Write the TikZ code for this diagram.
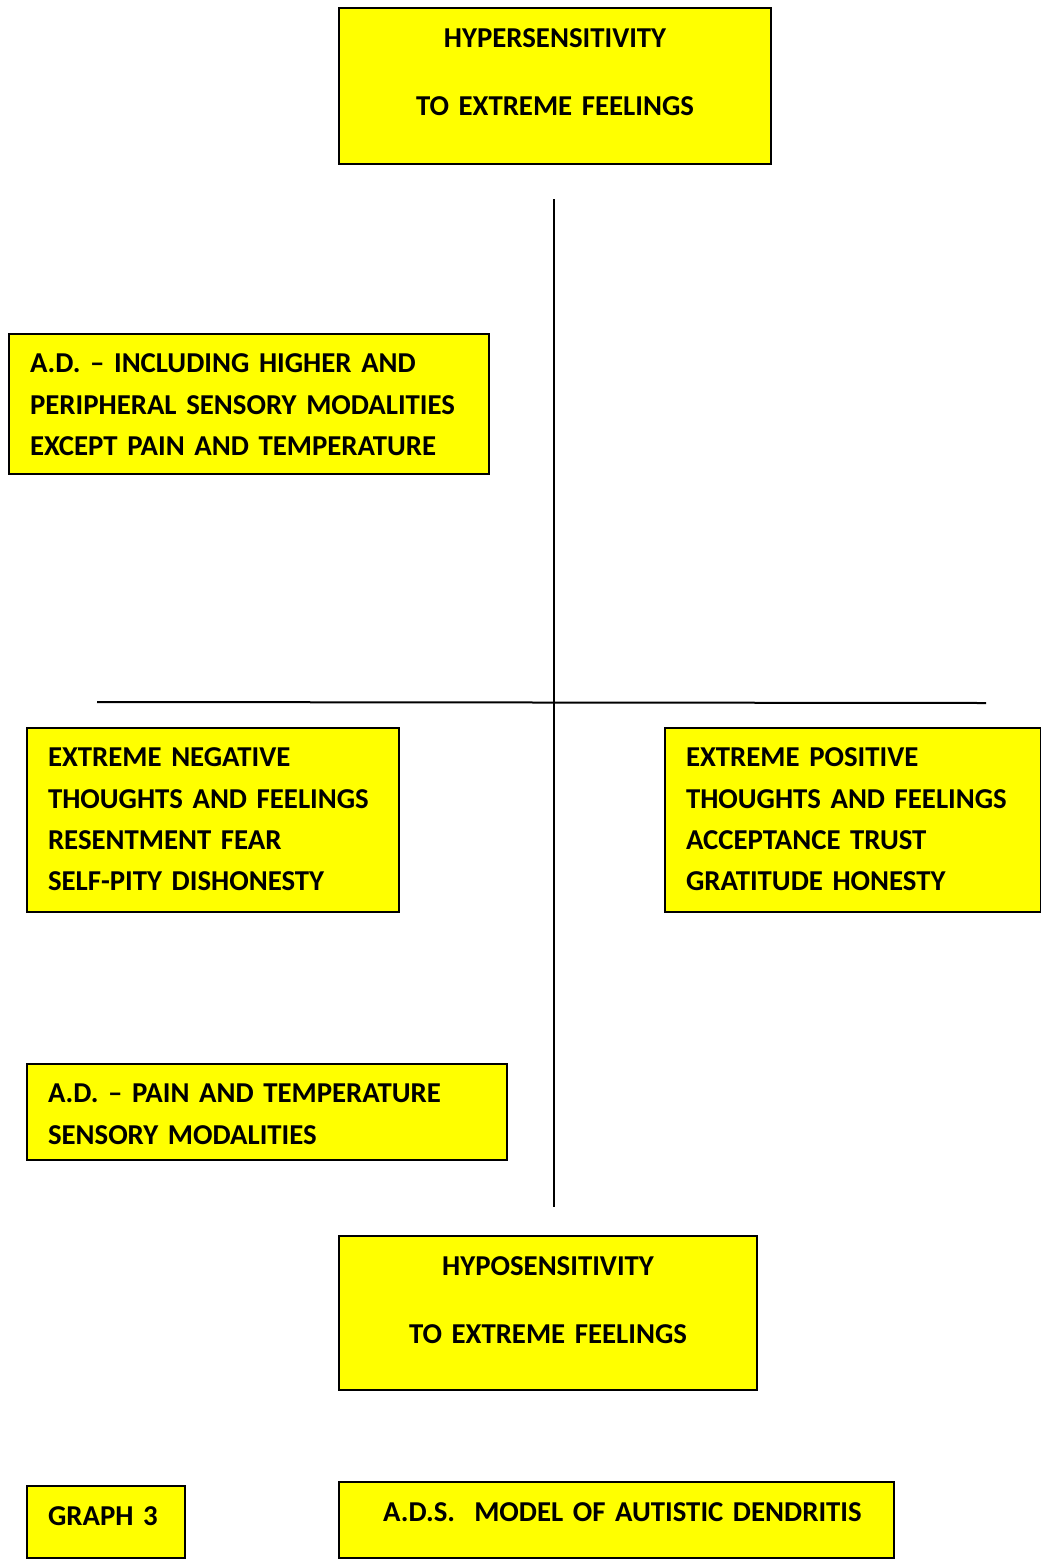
\documentclass[tikz,border=0pt]{standalone}
\usepackage{fontspec}
\setmainfont{Carlito}
\usepackage{xcolor}
\usepackage{tikz}
\definecolor{boxyellow}{RGB}{255,255,0}
\frenchspacing

\begin{document}
\begin{tikzpicture}[x=0.75pt, y=-0.75pt,
		box/.style={draw, rectangle, fill=boxyellow, line width=1.5pt, anchor=north west,
			inner ysep=0pt, inner xsep=15.75pt, font=\bfseries\fontsize{21.6}{31.1}\selectfont},
		leftbox/.style={box, align=left},
		midbox/.style={box, align=center, inner xsep=0pt},
		axis/.style={line width=1.5pt}]
		\useasboundingbox (0,0) rectangle (1041,1564);
		
		% Nodes
		\node[midbox, text width=324pt, text height=29.6pt, text depth=87.4pt] (hyper) at (338,7)
			{HYPERSENSITIVITY\\[19.9pt]TO EXTREME FEELINGS};
		\node[leftbox, text width=328.5pt, text height=28.9pt, text depth=76.1pt] (adhigh) at (8,333)
			{A.D. -- INCLUDING HIGHER AND\\PERIPHERAL SENSORY MODALITIES\\EXCEPT PAIN AND TEMPERATURE};
		\node[leftbox, text width=247.5pt, text height=28.9pt, text depth=109.1pt] (negative) at (26,727)
			{EXTREME NEGATIVE\\THOUGHTS AND FEELINGS\\RESENTMENT FEAR\\SELF-PITY DISHONESTY};
		\node[leftbox, text width=250.5pt, text height=28.9pt, text depth=109.1pt] (positive) at (664,727)
			{EXTREME POSITIVE\\THOUGHTS AND FEELINGS\\ACCEPTANCE TRUST\\GRATITUDE HONESTY};
		\node[leftbox, text width=328.5pt, text height=28.9pt, text depth=43.1pt] (adpain) at (26,1063)
			{A.D. -- PAIN AND TEMPERATURE\\SENSORY MODALITIES};
		\node[midbox, text width=313.5pt, text height=29.6pt, text depth=85.9pt] (hypo) at (338,1235)
			{HYPOSENSITIVITY\\[19.9pt]TO EXTREME FEELINGS};
		\node[leftbox, text width=87pt, text height=29.6pt, text depth=24.4pt] (graph) at (26,1485)
			{GRAPH 3};
		\node[midbox, text width=416.25pt, text height=29.6pt, text depth=27.4pt] (model) at (338,1481)
			{\hspace*{9pt}A.D.S.\ \ MODEL OF AUTISTIC DENDRITIS};
		
		% Axes
		\coordinate (vtop) at (554,199);
		\coordinate (vbot) at (554,1207);
		\coordinate (hleft) at (97,702);
		\coordinate (hright) at (986,703);
		\draw[axis] (vtop) -- (vbot);
		\draw[axis] (hleft) -- (hright);
		
	\end{tikzpicture}
\end{document}
